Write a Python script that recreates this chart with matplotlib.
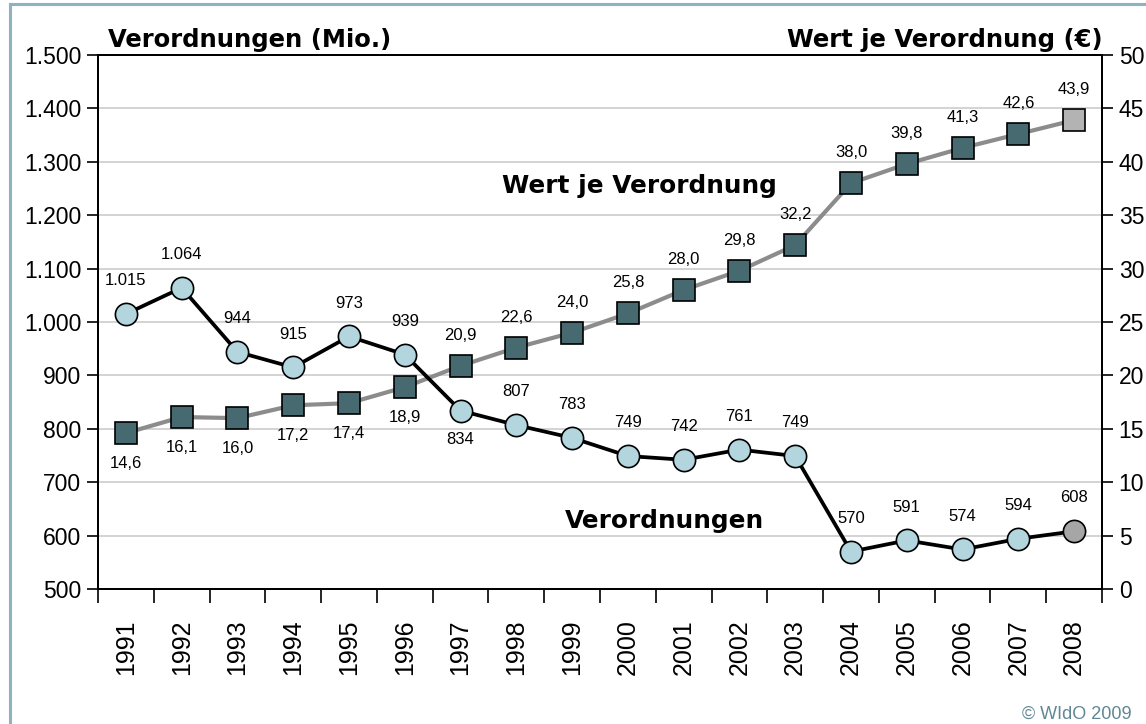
import matplotlib
matplotlib.use("Agg")
import matplotlib.pyplot as plt
from matplotlib.lines import Line2D
import numpy as np

years = [str(y) for y in range(1991, 2009)]
verordnungen = [1015, 1064, 944, 915, 973, 939, 834, 807, 783, 749, 742, 761, 749, 570, 591, 574, 594, 608]
verordnungen_labels = ["1.015", "1.064", "944", "915", "973", "939", "834", "807", "783", "749",
                       "742", "761", "749", "570", "591", "574", "594", "608"]
wert = [14.6, 16.1, 16.0, 17.2, 17.4, 18.9, 20.9, 22.6, 24.0, 25.8, 28.0, 29.8, 32.2, 38.0, 39.8, 41.3, 42.6, 43.9]
left_ticks = [500, 600, 700, 800, 900, 1000, 1100, 1200, 1300, 1400, 1500]
left_ticklabels = ["500", "600", "700", "800", "900", "1.000", "1.100", "1.200", "1.300", "1.400", "1.500"]
right_ticks = [0, 5, 10, 15, 20, 25, 30, 35, 40, 45, 50]

W, H = 1146, 724
fig = plt.figure(figsize=(W / 100, H / 100), dpi=100)
fig.patch.set_facecolor("white")

L, R, T, B = 98, 1102, 55, 589
ax2 = fig.add_axes([L / W, 1 - B / H, (R - L) / W, (B - T) / H])
ax = ax2.twinx()
# make left-axis series (Verordnungen) draw on top
ax.set_zorder(ax2.get_zorder() + 1)
ax.patch.set_visible(False)

x = np.arange(len(years))
ax2.set_xlim(-0.5, len(years) - 0.5)

# right-axis scale (Wert)
ax2.yaxis.tick_right()
ax2.yaxis.set_label_position("right")
ax2.set_ylim(0, 50)
ax2.set_yticks(right_ticks)
ax2.set_yticklabels([str(t) for t in right_ticks], fontsize=16.5, family="Liberation Sans")
ax2.grid(axis="y", color="#c8c8c8", linewidth=1.1)
ax2.set_axisbelow(True)

# left-axis scale (Verordnungen)
ax.yaxis.tick_left()
ax.yaxis.set_label_position("left")
ax.set_ylim(500, 1500)
ax.set_yticks(left_ticks)
ax.set_yticklabels(left_ticklabels, fontsize=16.5, family="Liberation Sans")

for a in (ax, ax2):
    for s in a.spines.values():
        s.set_color("black")
        s.set_linewidth(1.4)
    a.tick_params(axis="y", direction="out", length=8, width=1.2, colors="black", pad=4)

# x axis: labels at centers, ticks at boundaries
ax2.set_xticks(x)
ax2.set_xticklabels(years, rotation=90, fontsize=18, family="Liberation Sans")
ax2.tick_params(axis="x", which="major", length=0, pad=22)
ax2.set_xticks(np.arange(-0.5, len(years)), minor=True)
ax2.tick_params(axis="x", which="minor", length=10, width=1.2, direction="out")
ax.tick_params(axis="x", which="both", bottom=False, labelbottom=False, top=False)

# Wert series (squares, grey line)
ax2.plot(x, wert, color="#8c8c8c", linewidth=3.0, zorder=2)
ax2.plot(x[:-1], wert[:-1], linestyle="none", marker="s", markersize=15.5,
         markerfacecolor="#466a70", markeredgecolor="black", markeredgewidth=1.2, zorder=3)
ax2.plot(x[-1:], wert[-1:], linestyle="none", marker="s", markersize=15.5,
         markerfacecolor="#b3b3b3", markeredgecolor="black", markeredgewidth=1.2, zorder=3)

# Verordnungen series (circles, black line)
ax.plot(x, verordnungen, color="black", linewidth=2.7, zorder=2)
ax.plot(x[:-1], verordnungen[:-1], linestyle="none", marker="o", markersize=16,
        markerfacecolor="#b2d5de", markeredgecolor="black", markeredgewidth=1.2, zorder=3)
ax.plot(x[-1:], verordnungen[-1:], linestyle="none", marker="o", markersize=16,
        markerfacecolor="#a6a6a6", markeredgecolor="black", markeredgewidth=1.2, zorder=3)

lab_font = dict(fontsize=12, family="Liberation Sans", color="black", ha="center")
for i, (v, lbl) in enumerate(zip(verordnungen, verordnungen_labels)):
    dy = -21 if years[i] == "1997" else 24
    ax.annotate(lbl, (i, v), xytext=(0, dy), textcoords="offset points",
                va="center", zorder=5, **lab_font)
for i, w in enumerate(wert):
    dy = -22 if int(years[i]) <= 1996 else 22
    ax2.annotate(f"{w:.1f}".replace(".", ","), (i, w), xytext=(0, dy),
                 textcoords="offset points", va="center", zorder=5, **lab_font)

# series names inside plot
ax.text(9.21, 1242, "Wert je Verordnung", fontsize=17.8, fontweight="bold",
        family="DejaVu Sans", ha="center", va="baseline", zorder=6)
ax.text(9.66, 614, "Verordnungen", fontsize=17.8, fontweight="bold",
        family="DejaVu Sans", ha="center", va="baseline", zorder=6)

# axis titles
fig.text(108 / W, 1 - 47 / H, "Verordnungen (Mio.)", fontsize=17.5, fontweight="bold",
         family="DejaVu Sans", ha="left", va="baseline")
fig.text(1103 / W, 1 - 47 / H, "Wert je Verordnung (€)", fontsize=17.5, fontweight="bold",
         family="DejaVu Sans", ha="right", va="baseline")

# copyright
fig.text(1022 / W, 1 - 719 / H, "© WIdO 2009", fontsize=13, family="Liberation Sans",
         color="#5f8794", ha="left", va="baseline")

# outer frame lines
frame_color = "#8fb2bd"
fig.add_artist(Line2D([10 / W, 10 / W], [0, 1 - 4 / H], transform=fig.transFigure,
                      color=frame_color, linewidth=2.2))
fig.add_artist(Line2D([10 / W, 1], [1 - 4 / H, 1 - 4 / H], transform=fig.transFigure,
                      color=frame_color, linewidth=2.2))

fig.savefig("out.png", dpi=100)
